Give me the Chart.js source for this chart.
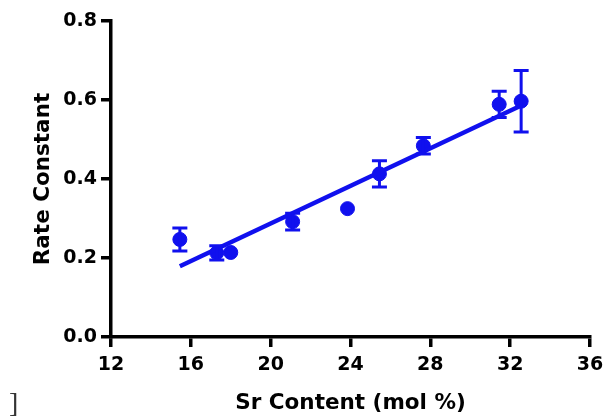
<!DOCTYPE html>
<html>
<head>
<meta charset="utf-8">
<script src="https://cdn.jsdelivr.net/npm/chart.js@4/dist/chart.umd.min.js"></script>
<style>
  html, body { margin: 0; padding: 0; background: #fff; }
  #wrap { position: relative; width: 605px; height: 416px; }
  #bracket { position: absolute; left: 9px; top: 389px; font: 28px "Liberation Serif", serif; color: #333; line-height: 1; }
</style>
</head>
<body>
<div id="wrap">
  <canvas id="c" width="605" height="416"></canvas>
  <span id="bracket">]</span>
</div>
<script>
// Measured rate constants against strontium content
const srContent = [15.45, 17.3, 18.0, 21.1, 23.85, 25.45, 27.65, 31.45, 32.55];
const rateConstant = [0.247, 0.213, 0.214, 0.292, 0.325, 0.413, 0.484, 0.589, 0.597];
const rateError = [0.029, 0.018, 0.0, 0.021, 0.0, 0.033, 0.021, 0.033, 0.078];

// Linear regression line endpoints
const fitX = [15.45, 32.5];
const fitY = [0.179, 0.585];

// Axis ticks
const xTicks = [12, 16, 20, 24, 28, 32, 36];
const yTicks = [0.0, 0.2, 0.4, 0.6, 0.8];

const BLUE = 'rgb(16,16,238)';
const FONT = '"DejaVu Sans", sans-serif';

// Vertical error bars with caps
const errorBars = {
  id: 'errorBars',
  afterDatasetsDraw(chart) {
    const xs = chart.scales.x, ys = chart.scales.y;
    const ctx = chart.ctx;
    ctx.save();
    ctx.strokeStyle = BLUE;
    ctx.lineWidth = 3;
    srContent.forEach((x, i) => {
      const e = rateError[i];
      if (!e) return;
      const px = xs.getPixelForValue(x);
      const top = ys.getPixelForValue(rateConstant[i] + e);
      const bot = ys.getPixelForValue(rateConstant[i] - e);
      ctx.beginPath();
      ctx.moveTo(px, top); ctx.lineTo(px, bot);
      ctx.moveTo(px - 7.5, top); ctx.lineTo(px + 7.5, top);
      ctx.moveTo(px - 7.5, bot); ctx.lineTo(px + 7.5, bot);
      ctx.stroke();
    });
    ctx.restore();
  }
};

new Chart(document.getElementById('c'), {
  type: 'scatter',
  data: {
    datasets: [
      {
        type: 'line',
        data: fitX.map((x, i) => ({ x, y: fitY[i] })),
        borderColor: BLUE,
        borderWidth: 4.5,
        pointRadius: 0,
        fill: false,
        clip: false
      },
      {
        data: srContent.map((x, i) => ({ x, y: rateConstant[i] })),
        backgroundColor: BLUE,
        borderColor: BLUE,
        pointRadius: 7,
        pointHoverRadius: 7,
        clip: false
      }
    ]
  },
  options: {
    responsive: false,
    animation: false,
    devicePixelRatio: 1,
    layout: { padding: { left: 0, top: 21, right: 15, bottom: 0 } },
    plugins: { legend: { display: false }, tooltip: { enabled: false } },
    scales: {
      x: {
        type: 'linear',
        min: xTicks[0],
        max: xTicks[xTicks.length - 1],
        afterBuildTicks: s => { s.ticks = xTicks.map(v => ({ value: v })); },
        afterFit: s => { s.height = 79; s.paddingLeft = 0; s.paddingRight = 15; },
        border: { display: true, color: '#000', width: 3.5 },
        grid: { drawOnChartArea: false, drawTicks: true, tickLength: 10, color: '#000', lineWidth: 3.5 },
        ticks: { color: '#000', padding: 7, font: { family: FONT, size: 19, weight: 'bold' }, maxRotation: 0 },
        title: { display: true, text: 'Sr Content (mol %)', color: '#000', padding: { top: 0, bottom: 0 },
                 font: { family: FONT, size: 21.5, weight: 'bold' } }
      },
      y: {
        type: 'linear',
        min: yTicks[0],
        max: yTicks[yTicks.length - 1],
        afterBuildTicks: s => { s.ticks = yTicks.map(v => ({ value: v })); },
        afterFit: s => { s.width = 111; },
        border: { display: true, color: '#000', width: 3.5 },
        grid: { drawOnChartArea: false, drawTicks: true, tickLength: 10, color: '#000', lineWidth: 3.5 },
        ticks: { color: '#000', padding: 4, font: { family: FONT, size: 19, weight: 'bold' },
                 callback: v => Number(v).toFixed(1) },
        title: { display: true, text: 'Rate Constant', color: '#000', padding: { top: 31, bottom: 0 },
                 font: { family: FONT, size: 21.5, weight: 'bold' } }
      }
    }
  },
  plugins: [errorBars]
});
</script>
</body>
</html>
